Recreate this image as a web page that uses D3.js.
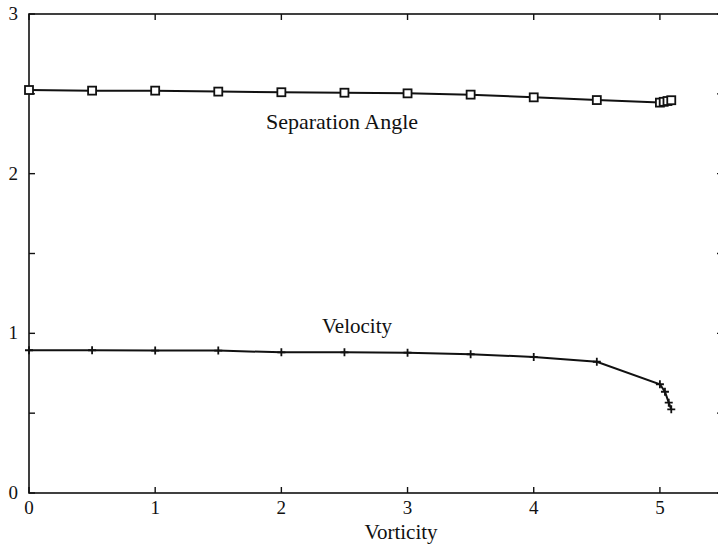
<!DOCTYPE html>
<html>
<head>
<meta charset="utf-8">
<script src="https://cdn.jsdelivr.net/npm/d3@7/dist/d3.min.js"></script>
<style>
    body { margin: 0; background: #fff; }
    svg text { font-family: "Liberation Serif", "DejaVu Serif", serif; fill: #111; }
</style>
</head>
<body>
<svg id="chart" width="718" height="547"></svg>
<script>
// data
const vorticity_sep = [0, 0.5, 1, 1.5, 2, 2.5, 3, 3.5, 4, 4.5, 5, 5.03, 5.06, 5.09];
const separation_angle = [2.524, 2.52, 2.52, 2.514, 2.51, 2.507, 2.503, 2.495, 2.478, 2.461, 2.445, 2.45, 2.455, 2.46];
const vorticity_vel = [0, 0.5, 1, 1.5, 2, 2.5, 3, 3.5, 4, 4.5, 5, 5.04, 5.07, 5.09];
const velocity = [0.894, 0.894, 0.892, 0.892, 0.881, 0.881, 0.879, 0.869, 0.852, 0.822, 0.681, 0.634, 0.566, 0.524];
const x_ticks = [0, 1, 2, 3, 4, 5];
const y_ticks = [0, 1, 2, 3];
const y_minor = [0.5, 1.5, 2.5];

const svg = d3.select("#chart"),
    margin = { left: 29, top: 14 },
    width = 694,   // right border sits just off the page
    height = 479;

const x = d3.scaleLinear().domain([0, 5.5]).range([margin.left, margin.left + width]);
const y = d3.scaleLinear().domain([0, 3]).range([margin.top + height, margin.top]);

const g = svg.append("g");

// frame
g.append("rect")
    .attr("x", x(0)).attr("y", y(3))
    .attr("width", x(5.5) - x(0)).attr("height", y(0) - y(3))
    .attr("fill", "none").attr("stroke", "#111").attr("stroke-width", 1.6);

// ticks: inward on all sides
const tickLen = 6;
x_ticks.forEach(function(t) {
    g.append("line").attr("x1", x(t)).attr("x2", x(t)).attr("y1", y(0)).attr("y2", y(0) - tickLen)
        .attr("stroke", "#111").attr("stroke-width", 1.4);
    g.append("line").attr("x1", x(t)).attr("x2", x(t)).attr("y1", y(3)).attr("y2", y(3) + tickLen)
        .attr("stroke", "#111").attr("stroke-width", 1.4);
});
y_ticks.concat(y_minor).forEach(function(t) {
    g.append("line").attr("x1", x(0)).attr("x2", x(0) + tickLen).attr("y1", y(t)).attr("y2", y(t))
        .attr("stroke", "#111").attr("stroke-width", 1.4);
    g.append("line").attr("x1", x(5.5)).attr("x2", x(5.5) - tickLen).attr("y1", y(t)).attr("y2", y(t))
        .attr("stroke", "#111").attr("stroke-width", 1.4);
});

// tick labels
g.selectAll(".xlab").data(x_ticks).enter().append("text")
    .attr("x", d => x(d)).attr("y", y(0) + 21)
    .attr("text-anchor", "middle").attr("font-size", 19)
    .text(d => d);
g.selectAll(".ylab").data(y_ticks).enter().append("text")
    .attr("x", 18).attr("y", d => y(d) + 6)
    .attr("text-anchor", "end").attr("font-size", 19)
    .text(d => d);

// axis title
g.append("text").attr("x", 401).attr("y", 539)
    .attr("text-anchor", "middle").attr("font-size", 21)
    .text("Vorticity");

const line = d3.line().x(d => x(d[0])).y(d => y(d[1]));

// separation angle curve
const sepData = d3.zip(vorticity_sep, separation_angle);
g.append("path").datum(sepData)
    .attr("d", line).attr("fill", "none").attr("stroke", "#111").attr("stroke-width", 2);
g.selectAll(".sq").data(sepData).enter().append("rect")
    .attr("x", d => x(d[0]) - 4).attr("y", d => y(d[1]) - 4)
    .attr("width", 8).attr("height", 8)
    .attr("fill", "#fff").attr("stroke", "#111").attr("stroke-width", 1.8);

// velocity curve
const velData = d3.zip(vorticity_vel, velocity);
g.append("path").datum(velData)
    .attr("d", line).attr("fill", "none").attr("stroke", "#111").attr("stroke-width", 2);
g.selectAll(".plus").data(velData).enter().append("path")
    .attr("d", function(d) {
        const cx = x(d[0]), cy = y(d[1]);
        return "M" + (cx - 4) + "," + cy + "H" + (cx + 4) + "M" + cx + "," + (cy - 4) + "V" + (cy + 4);
    })
    .attr("stroke", "#111").attr("stroke-width", 1.8);

// curve labels
g.append("text").attr("x", 342).attr("y", 129)
    .attr("text-anchor", "middle").attr("font-size", 22)
    .text("Separation Angle");
g.append("text").attr("x", 357).attr("y", 333)
    .attr("text-anchor", "middle").attr("font-size", 21)
    .text("Velocity");
</script>
</body>
</html>
